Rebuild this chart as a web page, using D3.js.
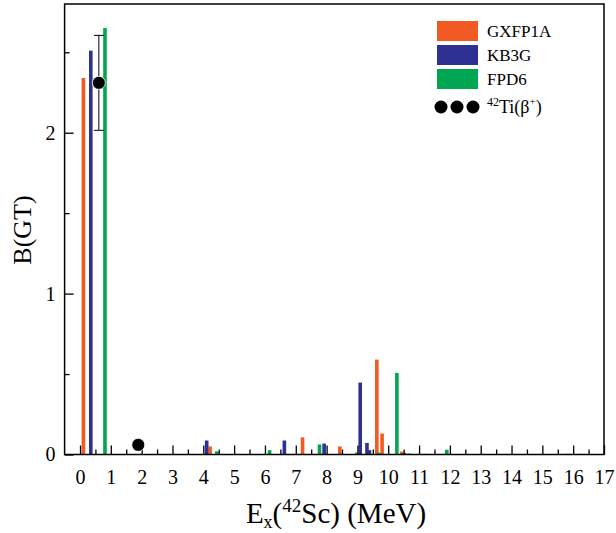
<!DOCTYPE html>
<html>
<head>
<meta charset="utf-8">
<script src="https://cdn.jsdelivr.net/npm/d3@7"></script>
<style>
  body { margin: 0; background: #fff; }
  svg { display: block; font-family: "Liberation Serif", "Times New Roman", serif; }
</style>
</head>
<body>
<div id="viz"></div>
<script>
// shell-model B(GT) strengths, energies in MeV
var gxfp1aE = [0.11, 4.22, 7.22, 8.43, 9.63, 9.80, 10.44, 11.23, 13.02, 16.23];
var gxfp1aB = [2.34, 0.05, 0.107, 0.05, 0.59, 0.13, 0.018, 0.004, 0.004, 0.004];

var kb3gE = [0.35, 4.11, 6.63, 7.92, 9.09, 9.31, 9.39, 10.53, 15.83];
var kb3gB = [2.51, 0.087, 0.087, 0.068, 0.447, 0.072, 0.027, 0.008, 0.004];

var fpd6E = [0.81, 4.44, 6.15, 7.77, 8.98, 9.69, 10.28, 10.69, 11.90];
var fpd6B = [2.65, 0.02, 0.027, 0.062, 0.012, 0.012, 0.507, 0.006, 0.03];

// 42Ti(beta+) experiment
var expE = [0.611, 1.89];
var expB = [2.31, 0.06];
var expErr = [0.295, 0];

var xTicks = d3.range(0, 18);
var xMinor = d3.range(0.5, 17, 1);
var yTicks = [0, 1, 2];
var yMinor = [0.5, 1.5, 2.5];

var seriesNames = ["GXFP1A", "KB3G", "FPD6"];
var colors = ["#f15a22", "#2e3192", "#00a651"];

var svg_width = 616, svg_height = 533;
var plotL = 64.6, plotR = 604, plotT = 4, plotB = 454.5;
var bar_w = 3.6;

var svg = d3.select('#viz')
  .append('svg')
  .attr('width', svg_width)
  .attr('height', svg_height);

var x = d3.scaleLinear().domain([-0.5, 17]).range([plotL, plotR]);
var y = d3.scaleLinear().domain([0, 2.8]).range([plotB, plotT]);

// bars
var series = [
  {e: gxfp1aE, b: gxfp1aB},
  {e: kb3gE, b: kb3gB},
  {e: fpd6E, b: fpd6B}
];
series.forEach(function(s, k){
  svg.append('g').selectAll('rect')
    .data(s.e.map(function(e, i){ return [e, s.b[i]]; }))
    .enter()
    .append('rect')
    .attr('x', d => x(d[0]) - bar_w/2)
    .attr('y', d => y(d[1]))
    .attr('width', bar_w)
    .attr('height', d => y(0) - y(d[1]))
    .attr('fill', colors[k]);
});

// axes, ticks pointing inward
var gx = svg.append('g').attr('transform', 'translate(0,' + plotB + ')')
  .call(d3.axisBottom(x).tickValues(xTicks).tickSize(-9).tickPadding(15).tickFormat(d3.format('d')));
var gxm = svg.append('g').attr('transform', 'translate(0,' + plotB + ')')
  .call(d3.axisBottom(x).tickValues(xMinor).tickSize(-5).tickFormat(''));
var gy = svg.append('g').attr('transform', 'translate(' + plotL + ',0)')
  .call(d3.axisLeft(y).tickValues(yTicks).tickSize(-9).tickPadding(9).tickFormat(d3.format('d')));
var gym = svg.append('g').attr('transform', 'translate(' + plotL + ',0)')
  .call(d3.axisLeft(y).tickValues(yMinor).tickSize(-5).tickFormat(''));

[gx, gxm, gy, gym].forEach(function(g){
  g.select('.domain').remove();
  g.selectAll('line').attr('stroke', '#000').attr('stroke-width', 1.3);
  g.selectAll('text').attr('font-family', 'Liberation Serif').attr('font-size', 20).attr('fill', '#000');
});

// frame
svg.append('rect')
  .attr('x', plotL).attr('y', plotT)
  .attr('width', plotR - plotL).attr('height', plotB - plotT)
  .attr('fill', 'none').attr('stroke', '#000').attr('stroke-width', 1.5);

// experimental points with error bar
var pts = svg.append('g');
expE.forEach(function(e, i){
  if (expErr[i] > 0) {
    var cx = x(e), y1 = y(expB[i] + expErr[i]), y2 = y(expB[i] - expErr[i]);
    pts.append('line').attr('x1', cx).attr('x2', cx).attr('y1', y1).attr('y2', y2)
      .attr('stroke', '#000').attr('stroke-width', 1);
    [y1, y2].forEach(function(yy){
      pts.append('line').attr('x1', cx - 5).attr('x2', cx + 5).attr('y1', yy).attr('y2', yy)
        .attr('stroke', '#000').attr('stroke-width', 1);
    });
  }
  pts.append('circle').attr('cx', x(e)).attr('cy', y(expB[i])).attr('r', 6.5)
    .attr('fill', '#000').attr('stroke', '#fff').attr('stroke-width', 0.8);
});

// legend
var lg = svg.append('g');
seriesNames.forEach(function(n, i){
  lg.append('rect').attr('x', 437).attr('y', 21 + i * 24).attr('width', 41).attr('height', 20)
    .attr('fill', colors[i]);
  lg.append('text').attr('x', 487).attr('y', 37 + i * 24).attr('font-size', 17).text(n);
});
[441, 457, 473].forEach(function(cx){
  lg.append('circle').attr('cx', cx).attr('cy', 107).attr('r', 6.5).attr('fill', '#000');
});
var lt = lg.append('text').attr('x', 487).attr('y', 113).attr('font-size', 18);
lt.append('tspan').attr('font-size', 12).attr('dy', -7).text('42');
lt.append('tspan').attr('dy', 7).text('Ti(β');
lt.append('tspan').attr('font-size', 11).attr('dy', -8).text('+');
lt.append('tspan').attr('dy', 8).text(')');

// axis titles
var xt = svg.append('text').attr('x', 336).attr('y', 523).attr('text-anchor', 'middle').attr('font-size', 29);
xt.append('tspan').text('E');
xt.append('tspan').attr('font-size', 18).attr('dy', 5).text('x');
xt.append('tspan').attr('dy', -5).text('(');
xt.append('tspan').attr('font-size', 19).attr('dy', -11).text('42');
xt.append('tspan').attr('dy', 11).text('Sc) (MeV)');

svg.append('text')
  .attr('transform', 'translate(31,230) rotate(-90)')
  .attr('text-anchor', 'middle')
  .attr('font-size', 26)
  .text('B(GT)');
</script>
</body>
</html>
